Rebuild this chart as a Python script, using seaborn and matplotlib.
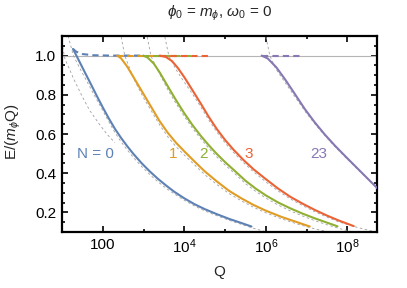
import matplotlib
matplotlib.use("Agg")
import matplotlib.pyplot as plt
import seaborn as sns
import pandas as pd
import numpy as np
from matplotlib.ticker import FixedLocator, FixedFormatter, MultipleLocator, NullFormatter

# ---- data (log10 Q, E/(m Q)) ----
# solid branches
lq_n0 = [1.27, 1.40, 1.55, 1.70, 1.85, 2.00, 2.15, 2.30, 2.45, 2.60, 2.75, 2.95, 3.15, 3.35, 3.55, 3.75, 4.00, 4.25, 4.50, 4.80, 5.10, 5.40, 5.65]
e_n0 = [1.034, 0.981, 0.919, 0.858, 0.796, 0.736, 0.679, 0.626, 0.580, 0.538, 0.499, 0.452, 0.410, 0.372, 0.338, 0.306, 0.272, 0.242, 0.217, 0.191, 0.167, 0.146, 0.128]

lq_n1 = [2.355, 2.45, 2.60, 2.80, 3.00, 3.20, 3.40, 3.60, 3.80, 4.00, 4.25, 4.50, 4.80, 5.10, 5.40, 5.70, 6.00, 6.40, 6.80, 7.08]
e_n1 = [1.0, 0.986, 0.944, 0.874, 0.804, 0.734, 0.664, 0.605, 0.555, 0.512, 0.46, 0.41, 0.358, 0.31, 0.272, 0.238, 0.209, 0.176, 0.148, 0.128]

lq_n2 = [2.995, 3.10, 3.25, 3.40, 3.60, 3.80, 4.00, 4.20, 4.40, 4.60, 4.80, 5.00, 5.25, 5.50, 5.75, 6.00, 6.30, 6.60, 6.90, 7.20, 7.50, 7.76]
e_n2 = [1.0, 0.99, 0.96, 0.913, 0.842, 0.772, 0.706, 0.646, 0.592, 0.543, 0.498, 0.457, 0.41, 0.362, 0.322, 0.287, 0.251, 0.221, 0.194, 0.17, 0.148, 0.129]

lq_n3 = [3.40, 3.55, 3.70, 3.85, 4.00, 4.20, 4.40, 4.60, 4.80, 5.00, 5.20, 5.45, 5.70, 6.00, 6.30, 6.60, 6.90, 7.20, 7.50, 7.80, 8.16]
e_n3 = [1.0, 0.993, 0.972, 0.935, 0.89, 0.824, 0.757, 0.688, 0.625, 0.57, 0.522, 0.468, 0.42, 0.37, 0.322, 0.28, 0.245, 0.213, 0.184, 0.158, 0.13]

lq_n23 = [5.90, 6.05, 6.26, 6.47, 6.67, 6.96, 7.20, 7.45, 7.70, 7.95, 8.20, 8.45, 8.73, 8.80]
e_n23 = [1.0, 0.985, 0.94, 0.88, 0.818, 0.727, 0.66, 0.597, 0.54, 0.487, 0.435, 0.383, 0.325, 0.311]

# dashed branches along E/(mQ) = 1
lq_d0 = [1.27, 1.35, 1.50, 1.75, 2.2, 3.0]
e_d0 = [1.034, 1.02, 1.008, 1.002, 1.0, 1.0]
lq_d1 = [2.355, 3.8]
e_d1 = [1.0, 1.0]
lq_d2 = [2.995, 4.2]
e_d2 = [1.0, 1.0]
lq_d3 = [3.40, 4.63]
e_d3 = [1.0, 1.0]
lq_d23 = [5.90, 6.88]
e_d23 = [1.0, 1.0]

# grey dashed approximations
lq_g0a = [1.15, 1.28, 1.45, 1.62, 1.80, 2.00, 2.15, 2.30, 2.45, 2.60, 2.75, 2.95, 3.15, 3.35, 3.55, 3.75, 4.00, 4.25, 4.50, 4.80, 5.10, 5.40, 5.65, 5.95, 6.20]
e_g0a = [1.10, 1.0, 0.93, 0.865, 0.795, 0.72, 0.662, 0.607, 0.56, 0.519, 0.481, 0.435, 0.394, 0.357, 0.324, 0.295, 0.262, 0.233, 0.208, 0.183, 0.16, 0.139, 0.122, 0.104, 0.09]
lq_g0b = [0.95, 1.07, 1.30, 1.50, 1.68, 1.90, 2.10, 2.30]
e_g0b = [1.12, 0.985, 0.875, 0.79, 0.72, 0.655, 0.60, 0.555]
lq_g1 = [2.43, 2.54, 2.66, 2.80, 3.00, 3.20, 3.40, 3.60, 3.80, 4.00, 4.25, 4.50, 4.80, 5.10, 5.40, 5.70, 6.00, 6.40, 6.80, 7.20, 7.60]
e_g1 = [1.12, 1.0, 0.935, 0.865, 0.785, 0.715, 0.645, 0.585, 0.535, 0.493, 0.443, 0.393, 0.342, 0.296, 0.259, 0.226, 0.198, 0.166, 0.139, 0.116, 0.098]
lq_g2 = [3.07, 3.18, 3.30, 3.45, 3.60, 3.80, 4.00, 4.20, 4.40, 4.60, 4.80, 5.00, 5.25, 5.50, 5.75, 6.00, 6.30, 6.60, 6.90, 7.20, 7.50, 7.80, 8.20]
e_g2 = [1.12, 1.0, 0.945, 0.885, 0.825, 0.755, 0.69, 0.63, 0.577, 0.528, 0.483, 0.442, 0.396, 0.347, 0.308, 0.273, 0.238, 0.208, 0.182, 0.158, 0.137, 0.118, 0.097]
lq_g3 = [3.50, 3.62, 3.78, 3.95, 4.20, 4.40, 4.60, 4.80, 5.00, 5.20, 5.45, 5.70, 6.00, 6.30, 6.60, 6.90, 7.20, 7.50, 7.80, 8.20, 8.60, 8.80]
e_g3 = [1.12, 1.0, 0.935, 0.88, 0.805, 0.74, 0.672, 0.61, 0.555, 0.508, 0.455, 0.407, 0.356, 0.31, 0.269, 0.235, 0.204, 0.176, 0.151, 0.126, 0.105, 0.097]
lq_g23 = [5.98, 6.10, 6.24, 6.45, 6.70, 7.00, 7.25, 7.50, 7.75, 8.00, 8.25, 8.50, 8.80]
e_g23 = [1.12, 1.0, 0.935, 0.87, 0.795, 0.705, 0.64, 0.58, 0.524, 0.472, 0.421, 0.37, 0.31]

labels = ["N = 0", "1", "2", "3", "23"]
label_lq = [1.83, 3.73, 4.47, 5.58, 7.29]
label_e = [0.50, 0.50, 0.50, 0.50, 0.50]

colors = ["#5E81B5", "#E19C24", "#8FB032", "#EB6235", "#8778B3"]

sns.set_style("ticks")
plt.rcParams["font.family"] = ["Liberation Sans", "DejaVu Sans"]
plt.rcParams["mathtext.fontset"] = "custom"
plt.rcParams["mathtext.rm"] = "Liberation Sans"
plt.rcParams["mathtext.it"] = "Liberation Sans:italic"

fig = plt.figure(figsize=(4.07, 2.88), dpi=100)
ax = fig.add_axes([62 / 407, 1 - 232 / 288, 315 / 407, 196 / 288])


def draw(lq, e, **kw):
    df = pd.DataFrame({"Q": np.power(10.0, lq), "E": e})
    sns.lineplot(data=df, x="Q", y="E", ax=ax, sort=False, estimator=None, **kw)


ax.axhline(1.0, color="#b5b5b5", lw=0.8, zorder=1)

greys = [(lq_g0a, e_g0a), (lq_g0b, e_g0b), (lq_g1, e_g1), (lq_g2, e_g2), (lq_g3, e_g3), (lq_g23, e_g23)]
for lq, e in greys:
    draw(lq, e, color="#a0a0a0", lw=0.6, dashes=(3, 3), zorder=2)

solids = [(lq_n0, e_n0), (lq_n1, e_n1), (lq_n2, e_n2), (lq_n3, e_n3), (lq_n23, e_n23)]
dashed = [(lq_d0, e_d0), (lq_d1, e_d1), (lq_d2, e_d2), (lq_d3, e_d3), (lq_d23, e_d23)]
for (lq, e), c in zip(dashed, colors):
    draw(lq, e, color=c, lw=1.5, dashes=(3, 2), zorder=3)
for (lq, e), c in zip(solids, colors):
    draw(lq, e, color=c, lw=1.5, zorder=4)

for t, x, y, c in zip(labels, label_lq, label_e, colors):
    ax.text(10 ** x, y, t, color=c, fontsize=11, ha="center", va="center")

ax.set_xscale("log")
ax.set_xlim(10, 10 ** 8.73)
ax.set_ylim(0.1, 1.1)

ax.xaxis.set_major_locator(FixedLocator([1e2, 1e4, 1e6, 1e8]))
ax.xaxis.set_major_formatter(FixedFormatter(["100", "10$^4$", "10$^6$", "10$^8$"]))
ax.xaxis.set_minor_locator(FixedLocator([1e1, 1e3, 1e5, 1e7]))
ax.xaxis.set_minor_formatter(NullFormatter())
ax.yaxis.set_minor_locator(MultipleLocator(0.05))
ax.set_yticks([0.2, 0.4, 0.6, 0.8, 1.0])
ax.set_yticklabels(["0.2", "0.4", "0.6", "0.8", "1.0"])

ax.tick_params(which="both", direction="in", top=True, right=True, labelsize=11, width=1.2, colors="black")
ax.tick_params(which="major", length=4, pad=4)
ax.tick_params(which="minor", length=2.5)
for s in ax.spines.values():
    s.set_linewidth(1.6)
    s.set_color("black")

ax.set_xlabel("")
ax.set_ylabel("")
fig.text(219 / 407, 1 - 272 / 288, "Q", fontsize=11, ha="center", va="center")
fig.text(13 / 407, 1 - 132 / 288, "E/($m_\\phi$Q)", fontsize=11, rotation=90, ha="center", va="center")
fig.text(219.5 / 407, 1 - 13 / 288, "$\\phi_0$ = $m_\\phi$, $\\omega_0$ = 0", fontsize=11, ha="center", va="center")

fig.savefig("out.png", dpi=100)
